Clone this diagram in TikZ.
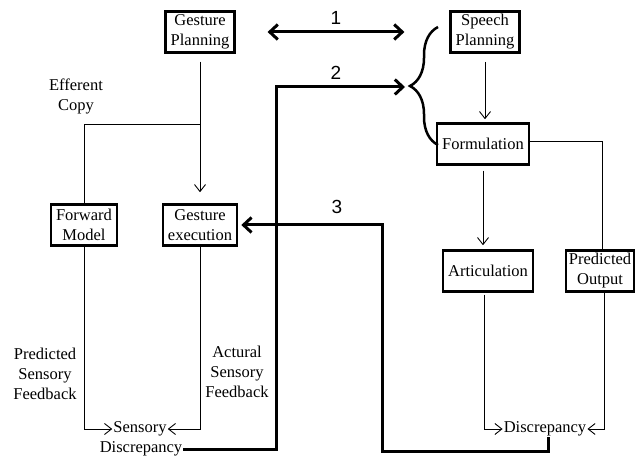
\documentclass[tikz,border=0pt]{standalone}
\usepackage{fontspec}
\setmainfont{Liberation Serif}
\newfontfamily\numfont{Liberation Sans}
\usetikzlibrary{arrows.meta,decorations.pathreplacing}

\tikzset{
  box/.style={draw, line width=2.5pt, align=center, inner xsep=5pt, inner ysep=3pt, minimum height=41pt},
  lab/.style={align=center, inner sep=1pt},
  thinarrow/.style={line width=0.9pt, -{Straight Barb[length=7pt,width=11pt]}},
  bigarrow/.style={line width=3pt, -{Straight Barb[length=8pt,width=15pt]}},
  numlab/.style={font=\numfont\fontsize{19}{21}\selectfont}
}

\begin{document}
\begin{tikzpicture}[x=1pt, y=-1pt, font=\fontsize{16.5}{20}\selectfont]
\useasboundingbox (0,0) rectangle (635,457);

\node[box] (gplan) at (200,32) {Gesture\\Planning};
\node[box] (splan) at (485,32) {Speech\\Planning};
\node[box] (form) at (483,144) {Formulation};
\node[box] (fwd) at (84,225) {Forward\\Model};
\node[box] (gexec) at (200,225) {Gesture\\execution};
\node[box] (artic) at (488,271) {Articulation};
\node[box, inner xsep=3pt] (pout) at (600,271) {Predicted\\Output};

\node[lab] (sens) at (140,429) {Sensory};
\node[lab] (sdisc) at (141,449) {Discrepancy};
\node[lab] (disc) at (545,429) {Discrepancy};

\node[lab] (effl) at (76,96) {Efferent\\Copy};
\node[lab] (psfl) at (45,374) {Predicted\\Sensory\\Feedback};
\node[lab] (asfl) at (237,372) {Actural\\Sensory\\Feedback};

\node[numlab] (n1) at (336,18) {1};
\node[numlab] (n2) at (336,73) {2};
\node[numlab] (n3) at (337,207) {3};

\coordinate (eff) at (200,124);
\coordinate (bracetip) at (405,87);
\coordinate (up2) at (276,87);
\coordinate (down3) at (382,451);

% brace in front of speech side
\draw[line width=2.5pt, decorate, decoration={brace, amplitude=28pt}] (438,145) -- (438,27);

% gesture side
\draw[thinarrow, shorten <=8pt, shorten >=11pt] (gplan) -- (gexec);
\draw[line width=0.9pt] (eff) -| (fwd.north);
\draw[thinarrow] (fwd) |- (sens);
\draw[thinarrow] (gexec) |- (sens);

% speech side
\draw[thinarrow, shorten <=8pt, shorten >=3pt] (splan) -- (splan |- form.north);
\draw[thinarrow, shorten <=5pt, shorten >=4pt] (form.south) -- (form.south |- artic.north);
\draw[line width=0.9pt] ([yshift=3pt]form.east) -| ([xshift=2pt]pout.north);
\draw[thinarrow, shorten <=2pt] ([xshift=-4pt]artic.south) |- (disc);
\draw[thinarrow] ([xshift=4pt]pout.south) |- (disc);

% links between the two
\draw[bigarrow, {Straight Barb[length=8pt,width=15pt]}-{Straight Barb[length=8pt,width=15pt]}, shorten <=32pt, shorten >=45pt] (gplan) -- (splan);
\draw[bigarrow] (sdisc.east) -| (up2) -- (bracetip);
\draw[bigarrow, shorten >=3pt] ([xshift=3pt]disc.south) |- (down3) |- (gexec.east);
\end{tikzpicture}
\end{document}
